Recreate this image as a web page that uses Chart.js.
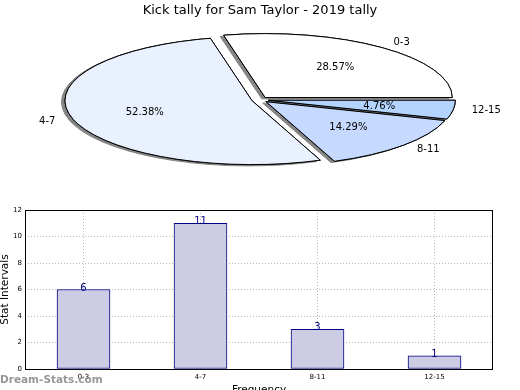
<!DOCTYPE html>
<html>
<head>
<meta charset="utf-8">
<script src="https://cdn.jsdelivr.net/npm/chart.js@4"></script>
<style>
    body { margin: 0; background: #fff; }
    canvas { position: absolute; left: 0; }
    #pie-chart { top: 0; }
    #bar-chart { top: 200px; }
</style>
</head>
<body>
<canvas id="pie-chart" width="520" height="200"></canvas>
<canvas id="bar-chart" width="520" height="190"></canvas>
<script>
const categories = ["0-3", "4-7", "8-11", "12-15"];
const tallies = [6, 11, 3, 1];
const sliceColours = ["#ffffff", "#eaf1fe", "#c6d9fe", "#b4d4fe"];
const yTicks = [0, 2, 4, 6, 8, 10, 12];

Chart.defaults.font.family = "'DejaVu Sans', sans-serif";
Chart.defaults.color = "#000";

const total = tallies.reduce((a, b) => a + b, 0);

// matplotlib draws counter-clockwise from 3 o'clock, chart.js clockwise,
// so feed the pie in reverse order and start at 90 degrees
const pieOrder = [3, 2, 1, 0];

const SQUASH = 0.342;
const EXPLODE = 8.4;
const SHADOW_DX = -3.5;
const SHADOW_DY = 1.3;

const ellipsePie = {
    id: "ellipsePie",
    beforeDatasetDraw(chart, args) {
        const ctx = chart.ctx;
        const arcs = args.meta.data;
        const cx = arcs[0].x, cy = arcs[0].y;
        const origStroke = ctx.stroke;
        // stroke with an unsquashed pen so the outline stays 1px
        ctx.stroke = function (...a) {
            this.save();
            this.setTransform(1, 0, 0, 1, 0, 0);
            origStroke.apply(this, a);
            this.restore();
        };
        const pass = (shadow) => arcs.forEach(arc => {
            const mid = (arc.startAngle + arc.endAngle) / 2;
            ctx.save();
            if (shadow) {
                ctx.shadowColor = "#858585";
                ctx.shadowOffsetX = SHADOW_DX;
                ctx.shadowOffsetY = SHADOW_DY;
                ctx.shadowBlur = 0;
            }
            ctx.translate(cx, cy);
            ctx.scale(1, SQUASH);
            ctx.translate(-cx, -cy);
            ctx.translate(Math.cos(mid) * EXPLODE, Math.sin(mid) * EXPLODE);
            arc.draw(ctx);
            ctx.restore();
        });
        pass(true);
        pass(false);
        ctx.stroke = origStroke;
        return false;
    },
    afterDatasetsDraw(chart) {
        const ctx = chart.ctx;
        const arcs = chart.getDatasetMeta(0).data;
        ctx.save();
        ctx.font = "10px 'DejaVu Sans'";
        ctx.fillStyle = "#000";
        ctx.textBaseline = "middle";
        arcs.forEach((arc, i) => {
            const idx = pieOrder[i];
            const mid = (arc.startAngle + arc.endAngle) / 2;
            const c = Math.cos(mid), s = Math.sin(mid);
            const ex = arc.x + c * EXPLODE;
            const ey = arc.y + s * EXPLODE * SQUASH;
            const r = arc.outerRadius;
            ctx.textAlign = "center";
            const pct = (tallies[idx] / total * 100).toFixed(2) + "%";
            ctx.fillText(pct, ex + 0.6 * r * c, ey + 0.6 * r * s * SQUASH);
            ctx.textAlign = c > 0 ? "left" : "right";
            ctx.fillText(categories[idx], ex + 1.1 * r * c, ey + 1.1 * r * s * SQUASH);
        });
        ctx.restore();
    }
};

let pieChart;

function createPieChart() {
    const pieCanvas = document.getElementById("pie-chart");
    pieChart = new Chart(pieCanvas.getContext("2d"), {
        type: "pie",
        data: {
            labels: pieOrder.map(i => categories[i]),
            datasets: [
                {
                    data: pieOrder.map(i => tallies[i]),
                    backgroundColor: pieOrder.map(i => sliceColours[i]),
                    borderColor: "#000",
                    borderWidth: 1,
                    borderJoinStyle: "miter"
                }
            ]
        },
        options: {
            responsive: false,
            animation: false,
            devicePixelRatio: 1,
            rotation: 90,
            radius: 187,
            layout: { padding: { top: 0, bottom: 22 } },
            plugins: {
                legend: { display: false },
                tooltip: { enabled: false },
                title: {
                    display: true,
                    text: "Kick tally for Sam Taylor - 2019 tally",
                    color: "#000",
                    font: { size: 13, weight: "normal" },
                    padding: { top: 3, bottom: 3 }
                }
            }
        },
        plugins: [ellipsePie]
    });
}

const barExtras = {
    id: "barExtras",
    afterDatasetsDraw(chart) {
        const ctx = chart.ctx;
        const area = chart.chartArea;
        ctx.save();
        ctx.strokeStyle = "#000";
        ctx.lineWidth = 1;
        ctx.strokeRect(area.left + 0.5, area.top + 0.5, area.right - area.left - 1, area.bottom - area.top);
        ctx.font = "10px 'DejaVu Sans'";
        ctx.fillStyle = "#000080";
        ctx.textAlign = "center";
        ctx.textBaseline = "alphabetic";
        chart.getDatasetMeta(0).data.forEach((bar, i) => {
            ctx.fillText(String(tallies[i]), bar.x, bar.y + 1);
        });
        ctx.restore();
    },
    afterDraw(chart) {
        const ctx = chart.ctx;
        ctx.save();
        ctx.font = "bold 10.5px 'DejaVu Sans'";
        ctx.fillStyle = "rgba(140,140,140,0.9)";
        ctx.textAlign = "left";
        ctx.textBaseline = "middle";
        ctx.fillText("Dream-Stats.com", 0, 180);
        ctx.restore();
    }
};

let barChart;

function createBarChart() {
    const barCanvas = document.getElementById("bar-chart");
    barChart = new Chart(barCanvas.getContext("2d"), {
        type: "bar",
        data: {
            labels: categories,
            datasets: [
                {
                    data: tallies,
                    backgroundColor: "#ccccE4",
                    borderColor: "#000080",
                    borderWidth: 1,
                    borderSkipped: false,
                    barThickness: 53
                }
            ]
        },
        options: {
            responsive: false,
            animation: false,
            devicePixelRatio: 1,
            layout: { padding: { top: 10, right: 27, left: 0, bottom: 0 } },
            plugins: {
                legend: { display: false },
                tooltip: { enabled: false }
            },
            scales: {
                x: {
                    grid: { offset: false, color: "#b8b8b8", drawTicks: false },
                    border: { display: false, dash: [1, 2] },
                    ticks: { font: { size: 7 }, padding: 4 },
                    title: {
                        display: true,
                        text: "Frequency",
                        font: { size: 10.5 },
                        padding: { top: 0, bottom: -7 }
                    },
                    afterFit(scale) { scale.height = 21; }
                },
                y: {
                    min: yTicks[0],
                    max: yTicks[yTicks.length - 1],
                    afterBuildTicks(scale) { scale.ticks = yTicks.map(v => ({ value: v })); },
                    grid: { color: "#b8b8b8", drawTicks: false },
                    border: { display: false, dash: [1, 2] },
                    ticks: { font: { size: 7 }, padding: 3 },
                    title: {
                        display: true,
                        text: "Stat Intervals",
                        font: { size: 10.5 },
                        padding: { top: -1, bottom: 0 }
                    },
                    afterFit(scale) { scale.width = 25; }
                }
            }
        },
        plugins: [barExtras]
    });
}

createPieChart();
createBarChart();
</script>
</body>
</html>
